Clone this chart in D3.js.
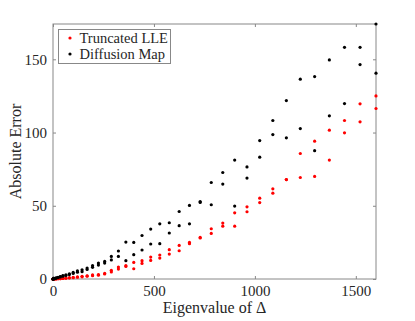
<!DOCTYPE html>
<html>
<head>
<meta charset="utf-8">
<script src="https://cdn.jsdelivr.net/npm/d3@7"></script>
<style>
  body { margin: 0; background: #fff; }
  text { font-family: "Liberation Serif", "DejaVu Serif", serif; fill: #262626; }
</style>
</head>
<body>
<svg width="415" height="321"></svg>
<script>
// eigenvalues k^2, k = 0..40, each with two eigenfunctions
var ks = d3.range(0, 41);
var eigenvalues = ks.map(function (k) { return k * k; });

// absolute error, two values per eigenvalue
var lleA = [0, 0.02, 0.05, 0.1, 0.15, 0.22, 0.3, 0.4, 0.6, 0.85, 1.1, 1.4, 1.8, 2.2, 2.8, 3.0, 3.8,
    5.9, 8.2, 9.1, 11.3, 12.5, 15.0, 16.4, 20.0, 22.9, 25.0, 28.4, 34.3, 38.2, 45.2,
    49.3, 55.2, 61.6, 67.9, 85.7, 94.1, 101.6, 108.2, 119.6, 125.0];
var lleB = [0, 0.02, 0.04, 0.08, 0.12, 0.18, 0.25, 0.35, 0.5, 0.7, 0.9, 1.2, 1.5, 1.9, 2.3, 2.6, 3.4,
    4.8, 6.8, 8.6, 7.0, 10.6, 12.7, 14.3, 17.0, 19.3, 24.1, 28.0, 31.1, 36.1, 36.1,
    45.9, 52.2, 58.6, 67.9, 69.3, 70.0, 81.2, 99.8, 107.3, 116.4];
var dmA = [0, 0.05, 0.2, 0.4, 0.8, 1.2, 1.7, 2.3, 2.9, 3.6, 4.5, 5.5, 6.3, 7.5, 9.1, 10.9, 12.0,
    15.4, 19.1, 25.2, 25.0, 29.7, 34.1, 37.7, 38.4, 46.1, 50.2, 52.9, 65.9, 72.7, 81.2,
    76.5, 94.5, 108.2, 121.8, 136.4, 138.2, 149.6, 158.2, 158.2, 174.1];
var dmB = [0, 0.05, 0.15, 0.35, 0.6, 1.0, 1.4, 1.9, 2.4, 3.0, 3.8, 4.6, 5.0, 6.5, 8.0, 9.5, 10.9,
    13.0, 15.4, 12.5, 16.6, 19.8, 23.9, 24.1, 31.4, 36.4, 37.7, 52.3, 50.7, 64.8, 49.8,
    68.9, 83.2, 98.6, 96.4, 102.7, 87.6, 111.4, 119.8, 146.4, 140.5];

var xTicks = [0, 500, 1000, 1500];
var yTicks = [0, 50, 100, 150];

var svg = d3.select("svg"),
    margin = {top: 24, right: 39, bottom: 42, left: 53},
    width = +svg.attr("width") - margin.left - margin.right,
    height = +svg.attr("height") - margin.top - margin.bottom;

var x = d3.scaleLinear().domain([0, 1600]).range([0, width]);
var y = d3.scaleLinear().domain([0, d3.max(dmA.concat(dmB))]).range([height, 0]);

var g = svg.append("g").attr("transform", "translate(" + margin.left + "," + margin.top + ")");

// box with inward ticks on all sides
function styleAxis(sel) {
    sel.attr("font-family", null).attr("font-size", null);
    sel.select(".domain").remove();
    sel.selectAll("line").attr("stroke", "#888");
    sel.selectAll("text")
        .style("font-family", "'Liberation Serif', serif")
        .style("font-size", "15px").attr("fill", "#262626");
}
g.append("g").attr("transform", "translate(0," + height + ")")
    .call(d3.axisBottom(x).tickValues(xTicks).tickSizeInner(-3).tickSizeOuter(0).tickPadding(6).tickFormat(d3.format("d")))
    .call(styleAxis);
g.append("g")
    .call(d3.axisTop(x).tickValues(xTicks).tickSizeInner(-3).tickSizeOuter(0).tickFormat(""))
    .call(styleAxis);
g.append("g")
    .call(d3.axisLeft(y).tickValues(yTicks).tickSizeInner(-3).tickSizeOuter(0).tickPadding(6))
    .call(styleAxis);
g.append("g").attr("transform", "translate(" + width + ",0)")
    .call(d3.axisRight(y).tickValues(yTicks).tickSizeInner(-3).tickSizeOuter(0).tickFormat(""))
    .call(styleAxis);

g.append("rect")
    .attr("width", width).attr("height", height)
    .attr("fill", "none").attr("stroke", "#888").attr("stroke-width", 1);

// points
var series = [
    {vals: lleA, color: "#ff0000"}, {vals: lleB, color: "#ff0000"},
    {vals: dmA, color: "#000"}, {vals: dmB, color: "#000"}
];
series.forEach(function (s) {
    g.selectAll(null)
        .data(eigenvalues.map(function (e, i) { return [e, s.vals[i]]; }))
        .enter().append("circle")
        .attr("cx", function (d) { return x(d[0]); })
        .attr("cy", function (d) { return y(d[1]); })
        .attr("r", 1.6)
        .attr("fill", s.color);
});

// axis labels
svg.append("text")
    .attr("x", margin.left + width / 2).attr("y", 313)
    .attr("text-anchor", "middle").style("font-size", "16px")
    .text("Eigenvalue of \u0394");
svg.append("text")
    .attr("transform", "translate(21," + (margin.top + height / 2) + ") rotate(-90)")
    .attr("text-anchor", "middle").style("font-size", "16px")
    .text("Absolute Error");

// legend
var lg = svg.append("g").attr("transform", "translate(58.5,29.5)");
lg.append("rect").attr("width", 112).attr("height", 34)
    .attr("fill", "#fff").attr("stroke", "#888");
var names = ["Truncated LLE", "Diffusion Map"];
var colors = ["#ff0000", "#000"];
names.forEach(function (n, i) {
    lg.append("circle").attr("cx", 11.5).attr("cy", 8.5 + i * 16).attr("r", 1.6).attr("fill", colors[i]);
    lg.append("text").attr("x", 21).attr("y", 13 + i * 16).style("font-size", "14.5px").text(n);
});
</script>
</body>
</html>
